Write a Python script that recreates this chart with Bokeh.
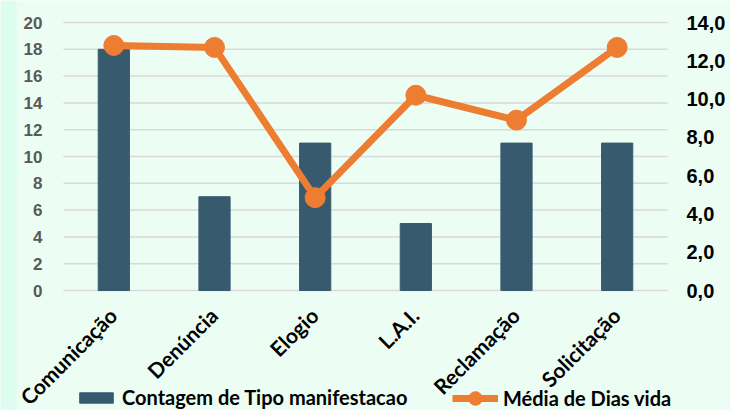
from bokeh.plotting import figure
from bokeh.models import Range1d, FactorRange, Legend, LegendItem, BoxAnnotation
from bokeh.core.properties import value
from bokeh.embed import file_html
from bokeh.resources import INLINE
import math

categorias = ["Comunicação", "Denúncia", "Elogio", "L.A.I.", "Reclamação", "Solicitação"]
contagem = [18, 7, 11, 5, 11, 11]
media_dias = [12.8, 12.7, 4.85, 10.2, 8.9, 12.7]
ticks_esq = [0, 2, 4, 6, 8, 10, 12, 14, 16, 18, 20]
ticks_dir = [0, 2, 4, 6, 8, 10, 12, 14]
rot_esq = [str(t) for t in ticks_esq]
rot_dir = [f"{t:.1f}".replace(".", ",") for t in ticks_dir]

BG = "#ECFDF3"
STRIP = "#DCFDF0"
BAR = "#385A6F"
ORANGE = "#ED7D31"
FONT_NUM = value("Liberation Sans")
FONT_TXT = value("Lato")

# layout (pixels): value area from y=22 (max) to y=290 (zero); category band 63..666
W, H = 730, 410
TOP, ZERO = 22, 290
LEFT_EDGE = 63
STRIP_W = 16
ppu_l = (ZERO - TOP) / 20.0
ppu_r = (ZERO - TOP) / 14.0
cat_w = (W - 2 * LEFT_EDGE) / len(categorias)
pad = LEFT_EDGE / cat_w

p = figure(width=W, height=H, output_backend="svg", toolbar_location=None,
           x_range=FactorRange(*categorias, range_padding=pad, range_padding_units="absolute"),
           y_range=Range1d(-(H - ZERO) / ppu_l, 20 + TOP / ppu_l),
           x_axis_location=None, y_axis_location=None,
           min_border_left=0, min_border_right=0, min_border_top=0, min_border_bottom=0)
p.background_fill_color = BG
p.border_fill_color = BG
p.outline_line_color = None
p.grid.visible = False
p.extra_y_ranges = {"dias": Range1d(-(H - ZERO) / ppu_r, 14 + TOP / ppu_r)}

p.add_layout(BoxAnnotation(right=-(LEFT_EDGE - STRIP_W) / cat_w, fill_color=STRIP,
                           fill_alpha=1, line_color=None, level="underlay"))

# horizontal gridlines across the category band
n = len(categorias)
p.segment(x0=[0] * len(ticks_esq), x1=[n] * len(ticks_esq), y0=ticks_esq, y1=ticks_esq,
          line_color="#D9D9D9", line_width=1.5)

bars = p.vbar(x=categorias, top=contagem, width=0.31, color=BAR)
ln = p.line(x=categorias, y=media_dias, line_color=ORANGE, line_width=7, y_range_name="dias")
pts = p.scatter(x=categorias, y=media_dias, size=20, color=ORANGE, y_range_name="dias")

# left tick labels
p.text(x=[0] * len(ticks_esq), y=ticks_esq, text=rot_esq, x_offset=-21,
       text_align="right", text_baseline="middle", text_font=FONT_NUM,
       text_font_style="bold", text_font_size="17px", text_color="#595959")
# right tick labels
p.text(x=[n] * len(ticks_dir), y=ticks_dir, text=rot_dir, x_offset=19, y_range_name="dias",
       text_align="left", text_baseline="middle", text_font=FONT_NUM,
       text_font_style="bold", text_font_size="20px", text_color="#000000")

# rotated category labels
p.text(x=categorias, y=[0] * n, text=categorias, angle=math.pi / 4,
       x_offset=-1, y_offset=21, text_align="right", text_baseline="middle",
       text_font=FONT_TXT, text_font_style="bold", text_font_size="21px",
       text_color="#000000")

def mk_legend(items, loc, gw, gh):
    lg = Legend(items=items, location=loc, orientation="horizontal",
                glyph_width=gw, glyph_height=gh, label_standoff=5,
                padding=0, margin=0, border_line_color=None,
                background_fill_alpha=0,
                label_text_font="Lato", label_text_font_style="bold",
                label_text_font_size="20px", label_text_color="#000000")
    p.add_layout(lg, "center")
    return lg

mk_legend([LegendItem(label="Contagem de Tipo manifestacao", renderers=[bars])], (75, 1), 42, 13)
mk_legend([LegendItem(label="Média de Dias vida", renderers=[ln, pts])], (452, -5), 46, 34)

open("out.html", "w").write(file_html(p, INLINE))
